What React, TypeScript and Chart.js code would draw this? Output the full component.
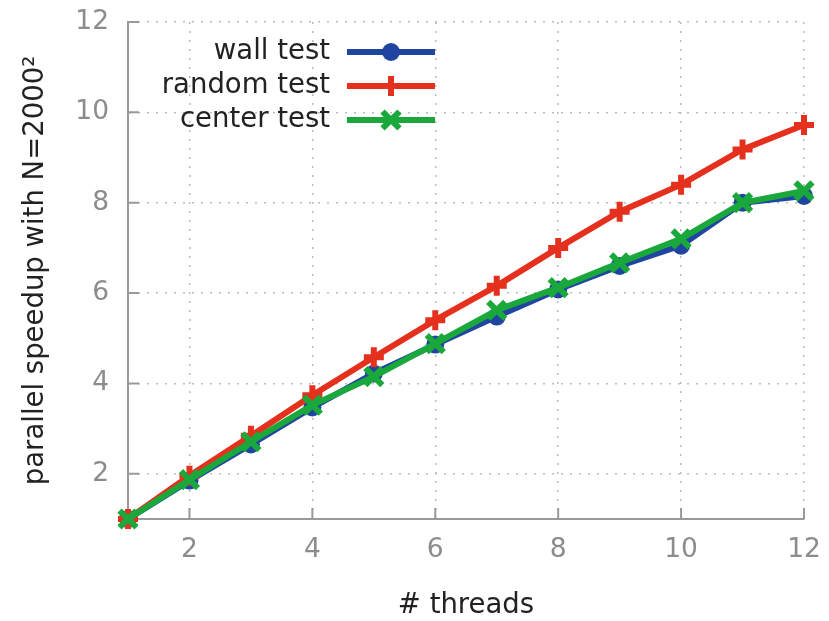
import React, { useEffect, useRef } from "react";
import { Chart, registerables } from "chart.js";

Chart.register(...registerables);

const threads = [1, 2, 3, 4, 5, 6, 7, 8, 9, 10, 11, 12];
const wallTest = [1, 1.85, 2.65, 3.47, 4.22, 4.86, 5.48, 6.08, 6.6, 7.05, 8.0, 8.15];
const randomTest = [1, 1.96, 2.84, 3.74, 4.58, 5.4, 6.16, 7.0, 7.8, 8.4, 9.18, 9.72];
const centerTest = [1, 1.87, 2.71, 3.52, 4.15, 4.88, 5.62, 6.12, 6.67, 7.2, 8.0, 8.26];
const xTicks = [2, 4, 6, 8, 10, 12];
const yTicks = [2, 4, 6, 8, 10, 12];

const FONT = "'DejaVu Sans', sans-serif";
const BLUE = "#1f45a0";
const RED = "#e5301d";
const GREEN = "#1aa83c";
const AXIS = "#999999";

const innerTicks = {
  id: "innerTicks",
  afterDatasetsDraw(chart: any) {
    const { ctx, chartArea, scales } = chart;
    ctx.save();
    ctx.strokeStyle = AXIS;
    ctx.lineWidth = 2;
    ctx.beginPath();
    for (const v of xTicks) {
      const px = scales.x.getPixelForValue(v);
      ctx.moveTo(px, chartArea.bottom);
      ctx.lineTo(px, chartArea.bottom - 11);
    }
    for (const v of yTicks) {
      const py = scales.y.getPixelForValue(v);
      ctx.moveTo(chartArea.left, py);
      ctx.lineTo(chartArea.left + 11, py);
    }
    ctx.stroke();
    ctx.restore();
  },
};

function drawMarker(ctx: CanvasRenderingContext2D, style: string, r: number, w: number, color: string, x: number, y: number) {
  ctx.fillStyle = color;
  ctx.strokeStyle = color;
  ctx.lineWidth = w;
  ctx.beginPath();
  if (style === "circle") {
    ctx.arc(x, y, r, 0, Math.PI * 2);
    ctx.fill();
    return;
  }
  if (style === "cross") {
    ctx.moveTo(x - r, y);
    ctx.lineTo(x + r, y);
    ctx.moveTo(x, y - r);
    ctx.lineTo(x, y + r);
  } else {
    const d = r * Math.SQRT1_2;
    ctx.moveTo(x - d, y - d);
    ctx.lineTo(x + d, y + d);
    ctx.moveTo(x - d, y + d);
    ctx.lineTo(x + d, y - d);
  }
  ctx.stroke();
}

const customLegend = {
  id: "customLegend",
  afterDraw(chart: any) {
    const { ctx } = chart;
    const rows = [52, 86, 120];
    const textRight = 330;
    const lineL = 347;
    const lineR = 435;
    const mid = 391;
    ctx.save();
    chart.data.datasets.forEach((ds: any, i: number) => {
      const y = rows[i];
      ctx.font = `27.5px ${FONT}`;
      ctx.fillStyle = "#222222";
      ctx.textAlign = "right";
      ctx.textBaseline = "middle";
      ctx.fillText(ds.label, textRight, y);
      ctx.strokeStyle = ds.borderColor;
      ctx.lineWidth = ds.borderWidth;
      ctx.beginPath();
      ctx.moveTo(lineL, y);
      ctx.lineTo(lineR, y);
      ctx.stroke();
      drawMarker(ctx, ds.pointStyle, ds.pointRadius, ds.pointBorderWidth, ds.borderColor, mid, y);
    });
    ctx.restore();
  },
};

export default function App() {
  const ref = useRef<HTMLCanvasElement>(null);
  useEffect(() => {
    if (!ref.current) return;
    const mk = (label: string, data: number[], color: string, style: string, radius: number, order: number) => ({
      label,
      data: threads.map((t, i) => ({ x: t, y: data[i] })),
      borderColor: color,
      backgroundColor: color,
      borderWidth: 6,
      pointStyle: style,
      pointRadius: radius,
      pointBackgroundColor: color,
      pointBorderColor: color,
      pointBorderWidth: style === "circle" ? 0 : 6,
      pointHoverRadius: radius,
      clip: false,
      order,
      tension: 0,
    });
    const chart = new Chart(ref.current, {
      type: "line",
      data: {
        datasets: [
          mk("wall test", wallTest, BLUE, "circle", 9, 3),
          mk("random test", randomTest, RED, "cross", 10, 2),
          mk("center test", centerTest, GREEN, "crossRot", 12, 1),
        ] as any,
      },
      options: {
        animation: false,
        responsive: false,
        events: [],
        layout: { padding: { top: 22, right: 25, left: 0, bottom: 0 } },
        plugins: { legend: { display: false }, tooltip: { enabled: false } },
        scales: {
          x: {
            type: "linear",
            min: 1,
            max: 12,
            afterBuildTicks: (s: any) => {
              s.ticks = xTicks.map((v) => ({ value: v }));
            },
            afterFit: (s: any) => {
              s.height = 102;
              s.paddingLeft = 0;
              s.paddingRight = 0;
            },
            grid: { color: "#bbbbbb", lineWidth: 1.5, drawTicks: false },
            border: { display: true, color: AXIS, width: 2, dash: [2, 7] },
            ticks: { color: "#8c8c8c", font: { family: FONT, size: 26.5 }, padding: 15, maxRotation: 0, autoSkip: false },
            title: {
              display: true,
              text: "# threads",
              color: "#222222",
              font: { family: FONT, size: 27.5, lineHeight: 1 },
              padding: { top: 0, bottom: 1 },
            },
          },
          y: {
            type: "linear",
            min: 1,
            max: 12,
            afterBuildTicks: (s: any) => {
              s.ticks = yTicks.map((v) => ({ value: v }));
            },
            afterFit: (s: any) => {
              s.width = 128;
              s.paddingTop = 0;
              s.paddingBottom = 0;
            },
            grid: { color: "#bbbbbb", lineWidth: 1.5, drawTicks: false },
            border: { display: true, color: AXIS, width: 2, dash: [2, 7] },
            ticks: { color: "#8c8c8c", font: { family: FONT, size: 26.5 }, padding: 19, autoSkip: false },
            title: {
              display: true,
              text: "parallel speedup with N=2000²",
              color: "#222222",
              font: { family: FONT, size: 27.5, lineHeight: 1 },
              padding: { top: 22, bottom: 0 },
            },
          },
        },
      } as any,
      plugins: [innerTicks, customLegend],
    });
    return () => chart.destroy();
  }, []);
  return (
    <div style={{ position: "absolute", left: 0, top: 0, width: 829, height: 621, background: "#ffffff" }}>
      <canvas ref={ref} width={829} height={621} />
    </div>
  );
}
